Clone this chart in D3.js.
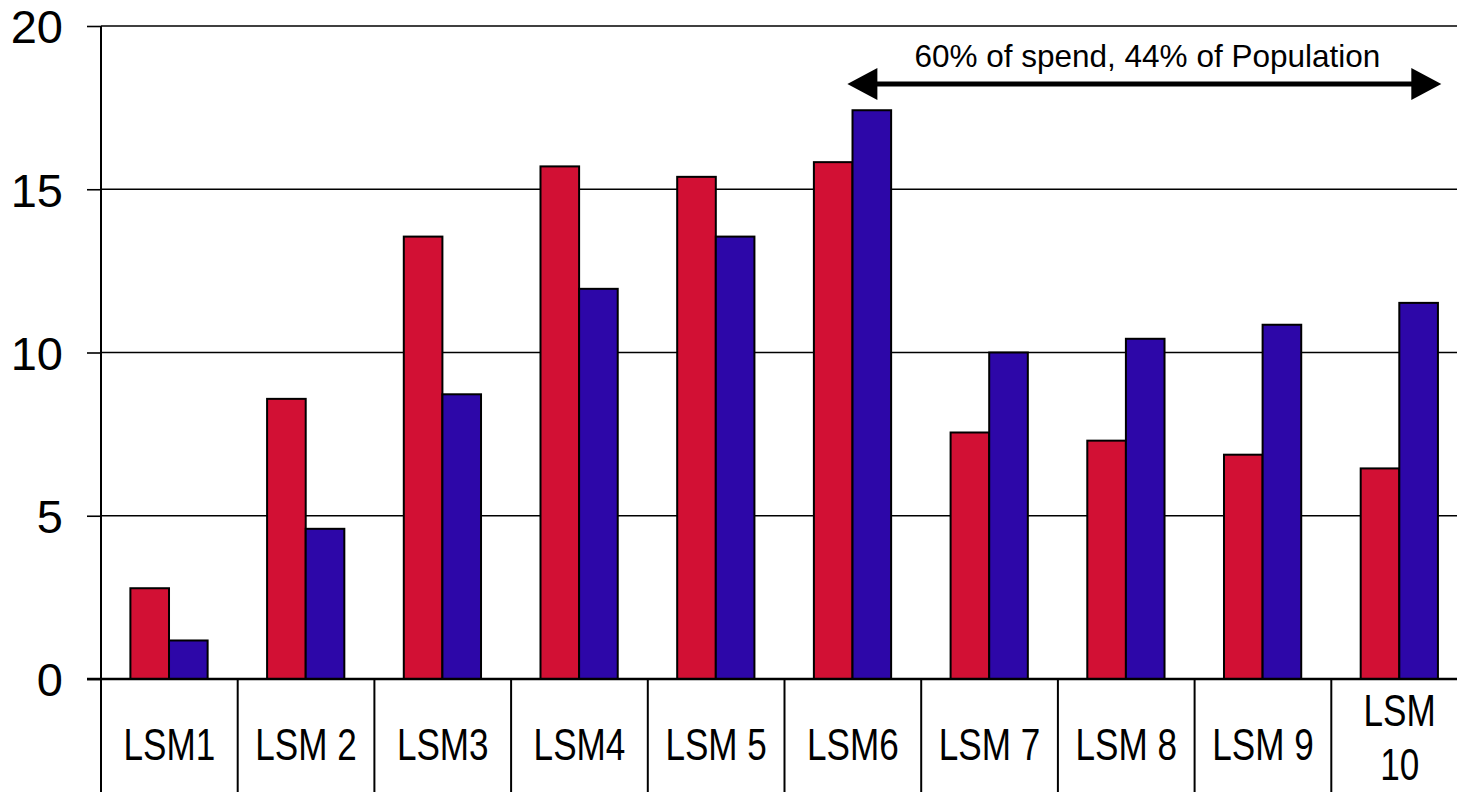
<!DOCTYPE html>
<html>
<head>
<meta charset="utf-8">
<script src="https://cdn.jsdelivr.net/npm/d3@7/dist/d3.min.js"></script>
<style>
  html, body { margin: 0; padding: 0; background: #fff; }
  svg { display: block; }
</style>
</head>
<body>
<svg id="chart" width="1457" height="792"></svg>
<script>
// LSM groups and the two series per group
const categories = ["LSM1", "LSM 2", "LSM3", "LSM4", "LSM 5", "LSM6", "LSM 7", "LSM 8", "LSM 9", "LSM 10"];
const spend      = [2.78, 8.58, 13.55, 15.70, 15.38, 15.83, 7.55, 7.30, 6.87, 6.45];
const population = [1.18, 4.60, 8.72, 11.95, 13.55, 17.42, 10.0, 10.42, 10.85, 11.52];
const seriesKeys = ["spend", "population"];
const seriesColors = ["#D21034", "#2D07A8"];
const yTicks = [0, 5, 10, 15, 20];
const annotationText = "60% of spend, 44% of Population";

const W = 1457, H = 792;
const svg = d3.select("#chart");
svg.append("rect").attr("width", W).attr("height", H).attr("fill", "#fff");

const plotLeft = 101, plotTop = 26, zeroY = 679;
const x = d3.scaleBand().domain(categories).range([plotLeft, 1468]).padding(0);
const y = d3.scaleLinear().domain([0, 20]).range([zeroY, plotTop]);
const bw = x.bandwidth();
const x1 = d3.scaleBand().domain(seriesKeys).range([bw * 0.215, bw * 0.78]).padding(0);
const color = d3.scaleOrdinal().domain(seriesKeys).range(seriesColors);

const rows = categories.map((c, i) => ({ cat: c, spend: spend[i], population: population[i] }));

// horizontal gridlines
svg.append("g").selectAll("line").data(yTicks.filter(t => t > 0)).join("line")
  .attr("x1", plotLeft).attr("x2", W)
  .attr("y1", d => y(d)).attr("y2", d => y(d))
  .attr("stroke", "#000").attr("stroke-width", 1.6);

// bars
const groups = svg.append("g").selectAll("g").data(rows).join("g")
  .attr("transform", d => `translate(${x(d.cat)},0)`);
groups.selectAll("rect")
  .data(d => seriesKeys.map(k => ({ key: k, value: d[k] })))
  .join("rect")
  .attr("x", d => x1(d.key))
  .attr("width", x1.bandwidth())
  .attr("y", d => y(d.value))
  .attr("height", d => y(0) - y(d.value))
  .attr("fill", d => color(d.key))
  .attr("stroke", "#000")
  .attr("stroke-width", 2);

// y axis with outward ticks
const yAxis = svg.append("g").attr("transform", `translate(${plotLeft},0)`)
  .call(d3.axisLeft(y).tickValues(yTicks).tickSize(14).tickPadding(24).tickFormat(d3.format("d")));
yAxis.select(".domain").remove();
yAxis.selectAll(".tick line").attr("stroke", "#000").attr("stroke-width", 1.6);
yAxis.selectAll(".tick text")
  .attr("font-family", "'Liberation Sans', Arial, sans-serif")
  .attr("font-size", 47)
  .attr("fill", "#000")
  .attr("dy", "0.36em");

// vertical axis line running into the category table
svg.append("line")
  .attr("x1", plotLeft).attr("x2", plotLeft).attr("y1", plotTop).attr("y2", H)
  .attr("stroke", "#000").attr("stroke-width", 2);

// category separators below the baseline
svg.append("g").selectAll("line").data(categories.slice(1)).join("line")
  .attr("x1", d => x(d)).attr("x2", d => x(d))
  .attr("y1", zeroY).attr("y2", H)
  .attr("stroke", "#000").attr("stroke-width", 2);

// baseline
svg.append("line")
  .attr("x1", plotLeft - 14).attr("x2", W).attr("y1", zeroY).attr("y2", zeroY)
  .attr("stroke", "#000").attr("stroke-width", 2.6);

// category labels (condensed), wrapped when wider than the cell
const labelScale = 0.78;
const labels = svg.append("g")
  .attr("font-family", "'Liberation Sans', Arial, sans-serif")
  .attr("font-size", 45)
  .attr("fill", "#000")
  .attr("text-anchor", "middle");
categories.forEach(c => {
  const cx = x(c) + bw / 2;
  const probe = labels.append("text").text(c);
  const wid = probe.node().getComputedTextLength() * labelScale;
  probe.remove();
  const lines = (wid > bw - 20 && c.includes(" ")) ? c.split(" ") : [c];
  const baselines = lines.length === 1 ? [760] : [726, 780];
  lines.forEach((ln, j) => {
    labels.append("text")
      .attr("transform", `translate(${cx},${baselines[j]}) scale(${labelScale},1)`)
      .text(ln);
  });
});

// annotation: double-headed arrow spanning LSM6 to LSM10
const ax0 = x("LSM6") + bw * 0.46, ax1 = x("LSM 10") + bw * 0.805, ay = 84;
const head = 30, half = 16;
svg.append("line")
  .attr("x1", ax0 + head - 2).attr("x2", ax1 - head + 2).attr("y1", ay).attr("y2", ay)
  .attr("stroke", "#000").attr("stroke-width", 5);
svg.append("path")
  .attr("d", `M${ax0},${ay} L${ax0 + head},${ay - half} L${ax0 + head},${ay + half} Z`)
  .attr("fill", "#000");
svg.append("path")
  .attr("d", `M${ax1},${ay} L${ax1 - head},${ay - half} L${ax1 - head},${ay + half} Z`)
  .attr("fill", "#000");
svg.append("text")
  .attr("x", (ax0 + ax1) / 2 + 3).attr("y", 67)
  .attr("text-anchor", "middle")
  .attr("font-family", "'Liberation Sans', Arial, sans-serif")
  .attr("font-size", 31.5)
  .attr("fill", "#000")
  .text(annotationText);
</script>
</body>
</html>
